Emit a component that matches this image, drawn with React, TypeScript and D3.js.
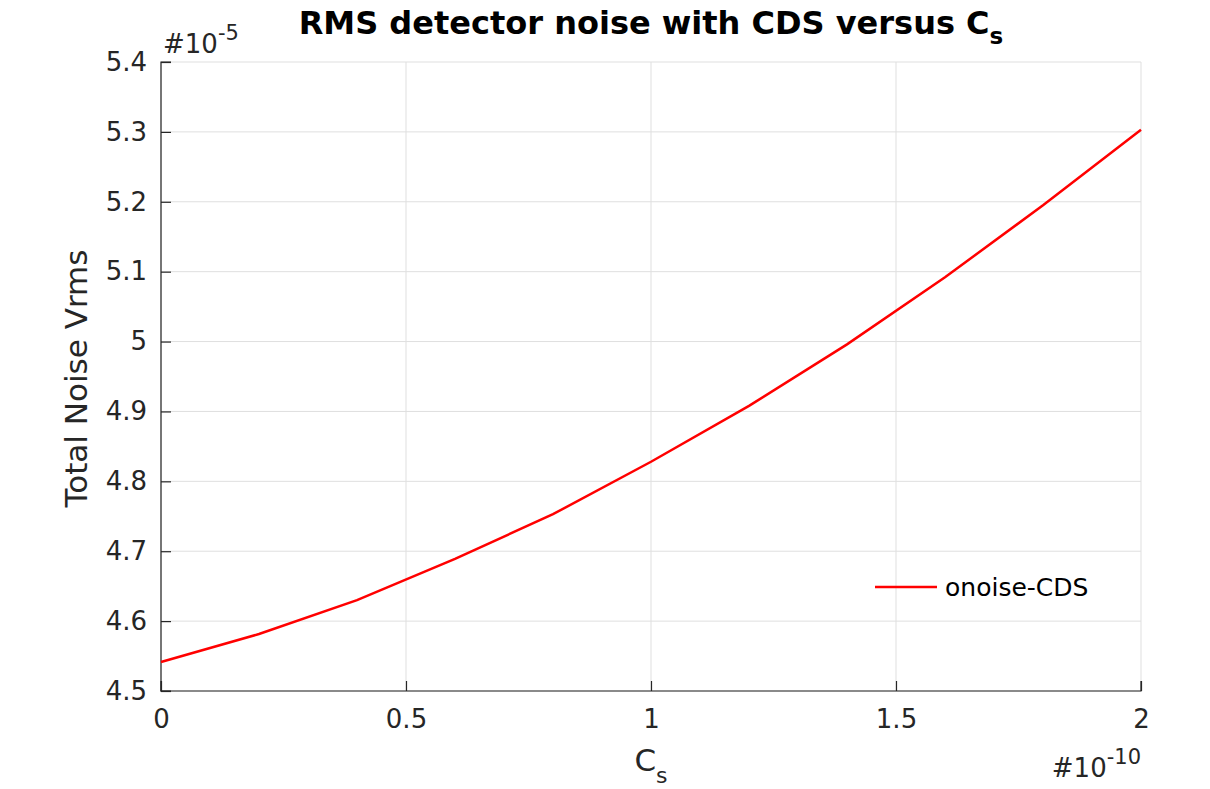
import React, { useRef, useEffect } from 'react';
import * as d3 from 'd3';

// Cs in units of 1e-10 F, noise in units of 1e-5 Vrms
const csValues = [0, 0.2, 0.4, 0.6, 0.8, 1.0, 1.2, 1.4, 1.6, 1.8, 2.0];
const noiseValues = [4.5415, 4.5815, 4.630, 4.689, 4.753, 4.828, 4.908, 4.996, 5.092, 5.195, 5.303];
const xTicks = [0, 0.5, 1, 1.5, 2];
const yTicks = [4.5, 4.6, 4.7, 4.8, 4.9, 5, 5.1, 5.2, 5.3, 5.4];
const seriesName = 'onoise-CDS';

const W = 1210;
const H = 789;
const margin = { top: 62, right: 69, bottom: 98, left: 161 };

const App: React.FC = () => {
  const svgRef = useRef<SVGSVGElement | null>(null);

  useEffect(() => {
    if (!svgRef.current) return;
    const svg = d3.select(svgRef.current);
    svg.selectAll('*').remove();

    const innerW = W - margin.left - margin.right;
    const innerH = H - margin.top - margin.bottom;
    const font = 'DejaVu Sans, sans-serif';
    const axisColor = '#262626';

    const x = d3.scaleLinear().domain([0, 2]).range([0, innerW]);
    const y = d3.scaleLinear().domain([4.5, 5.4]).range([innerH, 0]);

    const g = svg.append('g').attr('transform', `translate(${margin.left},${margin.top})`);

    // grid
    g.append('g')
      .selectAll('line')
      .data(xTicks)
      .enter()
      .append('line')
      .attr('x1', d => x(d))
      .attr('x2', d => x(d))
      .attr('y1', 0)
      .attr('y2', innerH)
      .attr('stroke', '#dfdfdf')
      .attr('stroke-width', 1);
    g.append('g')
      .selectAll('line')
      .data(yTicks)
      .enter()
      .append('line')
      .attr('x1', 0)
      .attr('x2', innerW)
      .attr('y1', d => y(d))
      .attr('y2', d => y(d))
      .attr('stroke', '#dfdfdf')
      .attr('stroke-width', 1);

    // axes (ticks inward)
    const xAxis = d3.axisBottom(x).tickValues(xTicks).tickSize(-10).tickPadding(19)
      .tickFormat(d => d3.format('')(d as number));
    const xg = g.append('g').attr('transform', `translate(0,${innerH})`).call(xAxis);
    const yAxis = d3.axisLeft(y).tickValues(yTicks).tickSize(-10).tickPadding(14)
      .tickFormat(d => d3.format('')(d as number));
    const yg = g.append('g').call(yAxis);

    [xg, yg].forEach(ax => {
      ax.select('.domain').attr('stroke', axisColor).attr('stroke-width', 1.2)
        .attr('d', ax === xg ? `M0,-10V0H${innerW}V-10` : `M10,0H0V${innerH}H10`);
      ax.selectAll('.tick line').attr('stroke', axisColor).attr('stroke-width', 1.2);
      ax.selectAll('.tick text')
        .attr('fill', axisColor)
        .style('font-family', font)
        .style('font-size', '26px');
    });
    xg.selectAll('.tick text').attr('dy', '0.71em');

    // line
    const line = d3.line<number>()
      .x((_, i) => x(csValues[i]))
      .y(d => y(d));
    g.append('path')
      .datum(noiseValues)
      .attr('d', line)
      .attr('fill', 'none')
      .attr('stroke', '#ff0000')
      .attr('stroke-width', 2.5);

    // legend
    const lg = g.append('g').attr('transform', `translate(${875 - margin.left},${587 - margin.top})`);
    lg.append('line').attr('x1', 0).attr('x2', 62).attr('y1', 0).attr('y2', 0)
      .attr('stroke', '#ff0000').attr('stroke-width', 2.5);
    lg.append('text').attr('x', 70).attr('y', 0).attr('dy', '0.35em')
      .style('font-family', font).style('font-size', '25px').attr('fill', '#000')
      .text(seriesName);

    // exponent labels
    const e1 = svg.append('text').attr('x', 163).attr('y', 53)
      .style('font-family', font).style('font-size', '26px').attr('fill', axisColor);
    e1.append('tspan').text('#10');
    e1.append('tspan').attr('dy', -13).style('font-size', '21px').text('-5');

    const e2 = svg.append('text').attr('x', 1141).attr('y', 777).attr('text-anchor', 'end')
      .style('font-family', font).style('font-size', '26px').attr('fill', axisColor);
    e2.append('tspan').text('#10');
    e2.append('tspan').attr('dy', -13).style('font-size', '21px').text('-10');

    // axis labels
    const xl = svg.append('text').attr('x', 651).attr('y', 771).attr('text-anchor', 'middle')
      .style('font-family', font).style('font-size', '31px').attr('fill', axisColor);
    xl.append('tspan').text('C');
    xl.append('tspan').attr('dy', 12).style('font-size', '22px').text('s');

    svg.append('text')
      .attr('transform', `translate(87,${margin.top + innerH / 2 + 2}) rotate(-90)`)
      .attr('text-anchor', 'middle')
      .style('font-family', font).style('font-size', '31px').attr('fill', axisColor)
      .text('Total Noise Vrms');

    // title
    const t = svg.append('text').attr('x', 651).attr('y', 34).attr('text-anchor', 'middle')
      .style('font-family', font).style('font-size', '32px').style('font-weight', 'bold')
      .attr('fill', '#000');
    t.append('tspan').text('RMS detector noise with CDS versus C');
    t.append('tspan').attr('dy', 10).style('font-size', '23px').text('s');
  }, []);

  return (
    <svg
      ref={svgRef}
      width={W}
      height={H}
      style={{ position: 'absolute', left: 0, top: 0, display: 'block', background: '#fff', overflow: 'visible' }}
    ></svg>
  );
};

export default App;
